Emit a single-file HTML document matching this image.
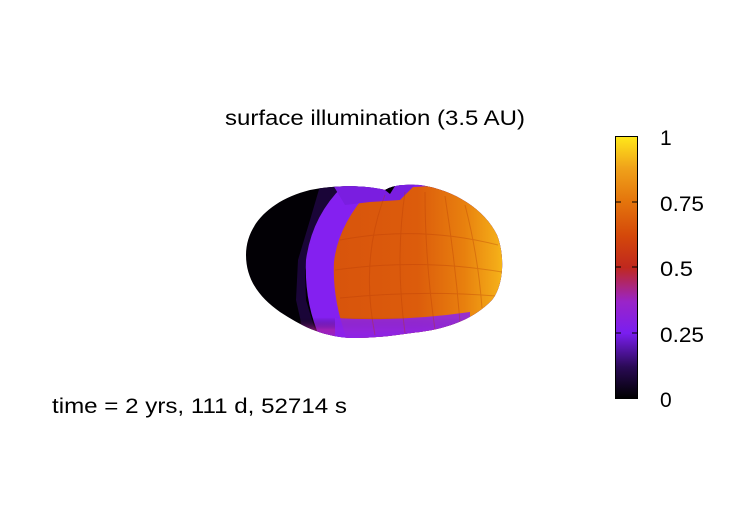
<!DOCTYPE html>
<html><head><meta charset="utf-8"><style>
html,body{margin:0;padding:0;background:#fff;}
body{width:750px;height:525px;overflow:hidden;position:relative;font-family:"Liberation Sans",Arial,sans-serif;}
</style></head><body>
<svg width="750" height="525" viewBox="0 0 750 525" xmlns="http://www.w3.org/2000/svg" style="position:absolute;left:0;top:0">
<defs>
<linearGradient id="cb" x1="0" y1="1" x2="0" y2="0">
<stop offset="0" stop-color="#000000"/>
<stop offset="0.12" stop-color="#2a0a55"/>
<stop offset="0.25" stop-color="#7a1ef0"/>
<stop offset="0.37" stop-color="#9a24c8"/>
<stop offset="0.5" stop-color="#c0281e"/>
<stop offset="0.62" stop-color="#d4480a"/>
<stop offset="0.75" stop-color="#e4740c"/>
<stop offset="0.88" stop-color="#f0a21a"/>
<stop offset="1" stop-color="#ffe81a"/>
</linearGradient>
<linearGradient id="org" x1="0" y1="0" x2="1" y2="0">
<stop offset="0" stop-color="#d8540c"/>
<stop offset="0.45" stop-color="#dc5c0c"/>
<stop offset="0.7" stop-color="#e8800e"/>
<stop offset="0.88" stop-color="#f4ac18"/>
<stop offset="1" stop-color="#ffd81a"/>
</linearGradient>
<linearGradient id="vbot" x1="0" y1="0" x2="0" y2="1">
<stop offset="0" stop-color="#000" stop-opacity="0"/>
<stop offset="0.7" stop-color="#000" stop-opacity="0"/>
<stop offset="0.85" stop-color="#b02090" stop-opacity="0.6"/>
<stop offset="1" stop-color="#8a20f0" stop-opacity="1"/>
</linearGradient>
<clipPath id="body"><path d="M246,255 C246,225 270,200 310,190 C340,184 370,186 385,190 C392,186 400,184 420,185 C455,190 485,210 497,235 C505,255 504,285 492,300 C475,318 450,328 420,332 C400,334 385,338 350,338 C320,336 300,325 280,312 C260,298 246,280 246,255 Z"/></clipPath>
</defs>
<g clip-path="url(#body)">
<rect x="240" y="180" width="270" height="165" fill="#020005"/>
<path d="M320,186 L370,186 L345,205 L318,235 L305,270 L306,300 L318,340 L305,340 L296,300 L298,260 L310,220 Z" fill="#1a0538"/>
<path d="M345,184 Q312,215 306,260 Q304,305 322,342 L520,342 L520,180 Z" fill="#8420f0"/>
<path d="M370,190 Q338,225 334,262 Q332,300 348,342 L520,342 L520,180 Z" fill="url(#org)"/>
<path d="M330,180 L420,180 L400,200 L370,202 L345,205 Z" fill="#7a1ee0"/>
<path d="M380,186 L395,186 L390,194 Z" fill="#000"/>
<rect x="300" y="260" width="210" height="82" fill="url(#vbot)"/>
<path d="M335,318 Q400,322 470,312 L470,342 L335,342 Z" fill="#8a22f0" opacity="0.85"/>
<g stroke="#b83c08" stroke-width="1" opacity="0.35" fill="none">
<path d="M385,195 Q360,260 375,335"/>
<path d="M405,192 Q395,260 405,333"/>
<path d="M425,192 Q425,260 435,330"/>
<path d="M445,196 Q455,260 460,322"/>
<path d="M465,205 Q478,255 482,308"/>
<path d="M340,240 Q420,225 498,245"/>
<path d="M335,270 Q420,258 502,272"/>
<path d="M340,298 Q420,290 496,296"/>
</g>
</g>
<text x="225" y="125" font-size="21" textLength="300" lengthAdjust="spacingAndGlyphs" fill="#000">surface illumination (3.5 AU)</text>
<text x="52" y="413" font-size="21" textLength="295" lengthAdjust="spacingAndGlyphs" fill="#000">time = 2 yrs, 111 d, 52714 s</text>
<rect x="615.5" y="136.5" width="22" height="262" fill="url(#cb)" stroke="#000" stroke-width="1"/>
<g stroke="#000" stroke-width="1">
<line x1="615" y1="202" x2="621" y2="202"/><line x1="632" y1="202" x2="638" y2="202"/>
<line x1="615" y1="267" x2="621" y2="267"/><line x1="632" y1="267" x2="638" y2="267"/>
<line x1="615" y1="333" x2="621" y2="333"/><line x1="632" y1="333" x2="638" y2="333"/>
</g>
<g font-size="21" fill="#000">
<text x="660" y="145">1</text>
<text x="660" y="211" textLength="44" lengthAdjust="spacingAndGlyphs">0.75</text>
<text x="660" y="276" textLength="33" lengthAdjust="spacingAndGlyphs">0.5</text>
<text x="660" y="342" textLength="44" lengthAdjust="spacingAndGlyphs">0.25</text>
<text x="660" y="407">0</text>
</g>
</svg>
</body></html>
